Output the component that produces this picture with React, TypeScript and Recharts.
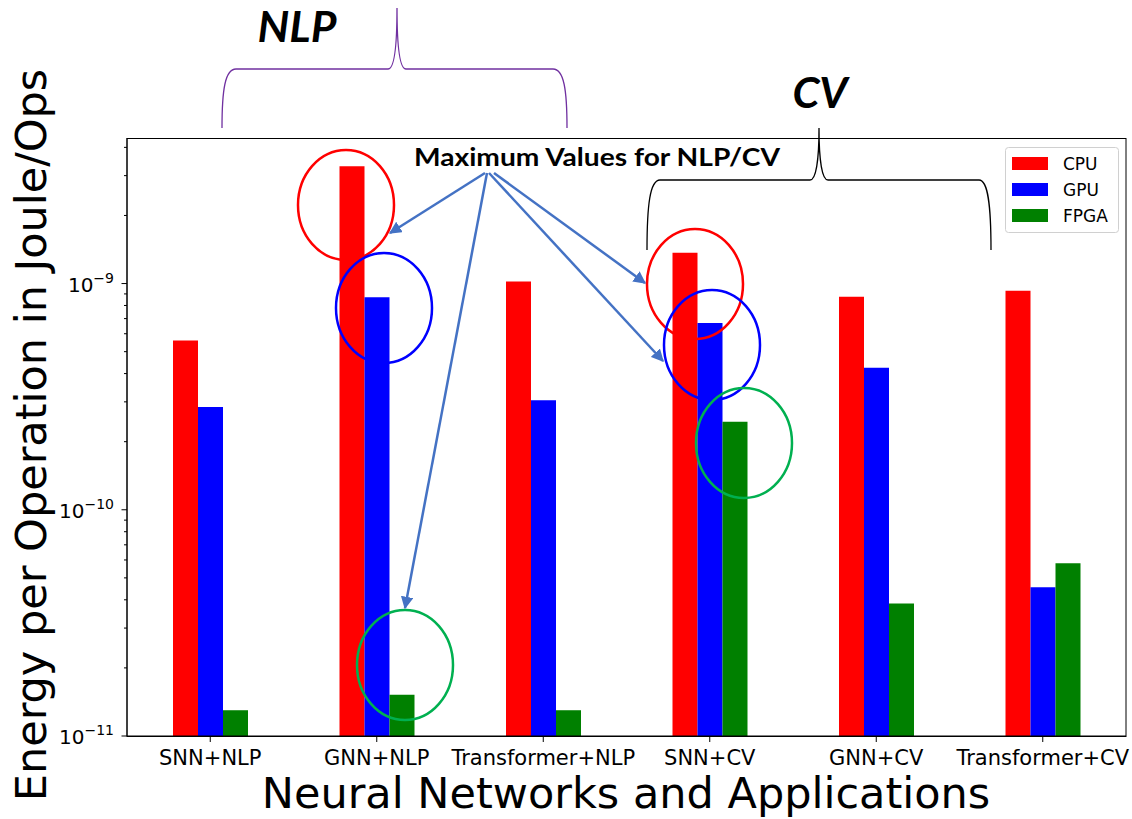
import React from "react";
import { BarChart, Bar, XAxis, YAxis, Legend } from "recharts";

const categories = [
  "SNN+NLP",
  "GNN+NLP",
  "Transformer+NLP",
  "SNN+CV",
  "GNN+CV",
  "Transformer+CV",
];
const cpuValues = [5.6e-10, 3.3e-9, 1.02e-9, 1.37e-9, 8.75e-10, 9.3e-10];
const gpuValues = [2.85e-10, 8.7e-10, 3.05e-10, 6.7e-10, 4.25e-10, 4.55e-11];
const fpgaValues = [1.3e-11, 1.52e-11, 1.3e-11, 2.45e-10, 3.85e-11, 5.8e-11];

const seriesNames = ["CPU", "GPU", "FPGA"];
const seriesColors = ["#ff0000", "#0000ff", "#008000"];

// log-axis ticks: majors get a label, the rest are minor marks
const yTicks = [
  1e-11, 2e-11, 3e-11, 4e-11, 5e-11, 6e-11, 7e-11, 8e-11, 9e-11,
  1e-10, 2e-10, 3e-10, 4e-10, 5e-10, 6e-10, 7e-10, 8e-10, 9e-10,
  1e-9, 2e-9, 3e-9, 4e-9,
];
const yDomain = [1e-11, 4.4e-9];

const xTitle = "Neural Networks and Applications";
const yTitle = "Energy per Operation in Joule/Ops";

const data = categories.map((name, i) => ({
  name,
  CPU: cpuValues[i],
  GPU: gpuValues[i],
  FPGA: fpgaValues[i],
}));

const W = 1132;
const H = 819;
const PLOT_LEFT = 127;
const FONT = "'DejaVu Sans', sans-serif";
const NOTE_FONT = "Lato, 'Open Sans', sans-serif";
const ARROW = "#4472c4";

const YTick = (props: any) => {
  const { y, payload } = props;
  const v = payload.value;
  const exp = Math.round(Math.log10(v));
  const major = Math.abs(v / Math.pow(10, exp) - 1) < 1e-6;
  return (
    <g>
      <line
        x1={PLOT_LEFT - (major ? 5.5 : 3)}
        x2={PLOT_LEFT}
        y1={y}
        y2={y}
        stroke="#000"
        strokeWidth={1}
      />
      {major && (
        <text
          x={PLOT_LEFT - 13}
          y={y + 8}
          textAnchor="end"
          fontFamily={FONT}
          fontSize={20}
          fill="#000"
        >
          10
          <tspan dy={-9} fontSize={14}>
            {"\u2212" + -exp}
          </tspan>
        </text>
      )}
    </g>
  );
};

const LegendBox = () => (
  <svg width={114} height={86} style={{ overflow: "visible" }}>
    <rect
      x={0.5}
      y={0.5}
      width={113}
      height={85}
      rx={3}
      fill="#fff"
      fillOpacity={0.8}
      stroke="#d0d0d0"
    />
    {seriesNames.map((s, i) => (
      <g key={s}>
        <rect x={7} y={10 + i * 26} width={36} height={13} fill={seriesColors[i]} />
        <text
          x={58}
          y={23 + i * 26}
          fontFamily={FONT}
          fontSize={17}
          fill="#000"
        >
          {s}
        </text>
      </g>
    ))}
  </svg>
);

const Ellipse = ({ cx, cy, color }: { cx: number; cy: number; color: string }) => (
  <ellipse cx={cx} cy={cy} rx={48} ry={55} fill="none" stroke={color} strokeWidth={2.5} />
);

const Overlay = () => (
  <svg
    width={W}
    height={H}
    style={{ position: "absolute", left: 0, top: 0, pointerEvents: "none" }}
  >
    <defs>
      <marker
        id="head"
        viewBox="0 0 10 10"
        refX={9}
        refY={5}
        markerWidth={5}
        markerHeight={5}
        orient="auto-start-reverse"
      >
        <path d="M0,0 L10,5 L0,10 z" fill={ARROW} />
      </marker>
    </defs>

    {/* plot frame */}
    <rect x={127} y={138.5} width={999} height={598} fill="none" stroke="#000" strokeWidth={1} />

    {/* axis titles */}
    <text
      x={626}
      y={808}
      textAnchor="middle"
      fontFamily={FONT}
      fontSize={43}
      fill="#000"
    >
      {xTitle}
    </text>
    <text
      transform="translate(46,435) rotate(-90)"
      textAnchor="middle"
      fontFamily={FONT}
      fontSize={43}
      fill="#000"
    >
      {yTitle}
    </text>

    {/* NLP group brace */}
    <path
      d="M222 128 C222 90 225 69 236 69 L388 69 C394 69 397 50 397 8 C397 50 400 69 406 69 L553 69 C564 69 567 90 567 128"
      fill="none"
      stroke="#7030a0"
      strokeWidth={1.3}
    />
    <text
      x={297}
      y={42}
      textAnchor="middle"
      fontFamily={NOTE_FONT}
      fontWeight="bold"
      fontStyle="italic"
      fontSize={42}
      textLength={79}
      lengthAdjust="spacingAndGlyphs"
      fill="#000"
    >
      NLP
    </text>

    {/* CV group brace */}
    <path
      d="M647 250 C647 205 650 180 660 180 L810 180 C816 180 819 160 819 128 C819 160 822 180 828 180 L979 180 C988 180 991 205 991 250"
      fill="none"
      stroke="#000"
      strokeWidth={1.3}
    />
    <text
      x={820}
      y={108}
      textAnchor="middle"
      fontFamily={NOTE_FONT}
      fontWeight="bold"
      fontStyle="italic"
      fontSize={42}
      textLength={55}
      lengthAdjust="spacingAndGlyphs"
      fill="#000"
    >
      CV
    </text>

    <text
      x={597}
      y={166}
      textAnchor="middle"
      fontFamily={NOTE_FONT}
      fontWeight="bold"
      fontSize={25}
      textLength={366}
      lengthAdjust="spacingAndGlyphs"
      fill="#000"
    >
      Maximum Values for NLP/CV
    </text>

    {/* arrows */}
    <g stroke={ARROW} strokeWidth={2.5} fill="none" markerEnd="url(#head)">
      <line x1={485} y1={173} x2={390} y2={233} />
      <line x1={487} y1={173} x2={405} y2={608} />
      <line x1={494} y1={173} x2={645} y2={283} />
      <line x1={489} y1={173} x2={663} y2={361} />
    </g>

    {/* highlight ellipses */}
    <Ellipse cx={346} cy={205} color="#ff0000" />
    <Ellipse cx={384} cy={308} color="#0000ff" />
    <Ellipse cx={405} cy={665} color="#00b050" />
    <Ellipse cx={695} cy={284} color="#ff0000" />
    <Ellipse cx={712} cy={345} color="#0000ff" />
    <Ellipse cx={744} cy={443} color="#00b050" />
  </svg>
);

const App: React.FC = () => {
  return (
    <div
      style={{
        position: "absolute",
        left: 0,
        top: 0,
        width: W,
        height: H,
        background: "#fff",
      }}
    >
      <BarChart
        width={W}
        height={H}
        data={data}
        margin={{ top: 138, right: 6, bottom: 53, left: 67 }}
        barGap={0}
        barSize={25}
      >
        <XAxis
          dataKey="name"
          height={30}
          tickSize={6}
          tickMargin={8}
          interval={0}
          stroke="#000"
          tick={{ fontFamily: FONT, fontSize: 21, fill: "#000" }}
        />
        <YAxis
          width={60}
          scale="log"
          domain={yDomain}
          allowDataOverflow
          ticks={yTicks}
          interval={0}
          tickLine={false}
          stroke="#000"
          tick={<YTick />}
        />
        <Legend
          layout="horizontal"
          align="center"
          verticalAlign="middle"
          wrapperStyle={{ top: 147, left: 1005, width: 114, height: 86 }}
          content={() => <LegendBox />}
        />
        {seriesNames.map((s, i) => (
          <Bar
            key={s}
            dataKey={s}
            fill={seriesColors[i]}
            isAnimationActive={false}
          />
        ))}
      </BarChart>
      <Overlay />
    </div>
  );
};

export default App;
